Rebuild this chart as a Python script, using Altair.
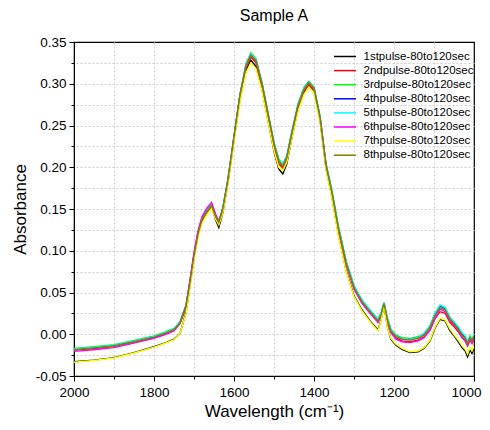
import altair as alt
import pandas as pd

wavenumber = [2000, 1950, 1900, 1850, 1800, 1770, 1750, 1735, 1720, 1710,
              1700, 1690, 1680, 1668, 1656, 1646, 1638, 1628, 1615, 1600,
              1585, 1570, 1558, 1545, 1530, 1515, 1500, 1488, 1478, 1468,
              1455, 1440, 1425, 1413, 1400, 1385, 1370, 1355, 1340, 1320,
              1300, 1280, 1260, 1240, 1232, 1225, 1217, 1208, 1195, 1180,
              1160, 1140, 1125, 1110, 1098, 1085, 1072, 1060, 1048, 1038,
              1030, 1022, 1016, 1010, 1005, 1000]

series_names = ["1stpulse-80to120sec", "2ndpulse-80to120sec", "3rdpulse-80to120sec",
                "4thpulse-80to120sec", "5thpulse-80to120sec", "6thpulse-80to120sec",
                "7thpulse-80to120sec", "8thpulse-80to120sec"]
colors = ["#000000", "#ff0000", "#00ff00", "#0000ff", "#00ffff", "#ff00ff", "#ffff00", "#808000"]

pulse1 = [-0.033, -0.031, -0.028, -0.022, -0.015, -0.010, -0.006, 0.001, 0.026, 0.058,
          0.092, 0.119, 0.136, 0.146, 0.153, 0.137, 0.128, 0.145, 0.182, 0.233,
          0.282, 0.316, 0.328, 0.321, 0.293, 0.256, 0.219, 0.198, 0.192, 0.204,
          0.236, 0.269, 0.290, 0.299, 0.292, 0.257, 0.199, 0.164, 0.122, 0.077,
          0.046, 0.029, 0.016, 0.005, 0.018, 0.035, 0.010, -0.006, -0.013, -0.018,
          -0.022, -0.021, -0.017, -0.008, 0.007, 0.018, 0.016, 0.004, -0.003, -0.010,
          -0.016, -0.020, -0.027, -0.019, -0.023, -0.017]
pulse2 = [-0.019, -0.017, -0.0145, -0.0095, -0.004, 0.001, 0.005, 0.013, 0.032, 0.061,
          0.093, 0.119, 0.136, 0.146, 0.153, 0.139, 0.132, 0.148, 0.183, 0.234,
          0.284, 0.319, 0.332, 0.325, 0.297, 0.261, 0.225, 0.204, 0.199, 0.209,
          0.239, 0.271, 0.291, 0.299, 0.292, 0.258, 0.201, 0.168, 0.128, 0.085,
          0.055, 0.038, 0.026, 0.015, 0.023, 0.036, 0.017, 0.003, -0.004, -0.008,
          -0.009, -0.007, -0.003, 0.005, 0.018, 0.027, 0.025, 0.014, 0.008, 0.002,
          -0.004, -0.008, -0.014, -0.007, -0.011, -0.005]
pulse3 = [-0.017, -0.015, -0.0125, -0.0075, -0.002, 0.003, 0.007, 0.015, 0.035, 0.064,
          0.096, 0.122, 0.139, 0.149, 0.156, 0.143, 0.136, 0.152, 0.187, 0.238,
          0.288, 0.324, 0.337, 0.330, 0.302, 0.266, 0.230, 0.210, 0.204, 0.214,
          0.244, 0.276, 0.296, 0.303, 0.296, 0.262, 0.205, 0.172, 0.132, 0.088,
          0.058, 0.041, 0.029, 0.018, 0.026, 0.038, 0.020, 0.006, -0.001, -0.004,
          -0.005, -0.003, 0.001, 0.010, 0.024, 0.034, 0.031, 0.020, 0.013, 0.008,
          0.001, -0.003, -0.010, -0.002, -0.007, 0.000]
pulse4 = [-0.018, -0.016, -0.0135, -0.0085, -0.003, 0.002, 0.006, 0.014, 0.034, 0.063,
          0.095, 0.121, 0.138, 0.148, 0.155, 0.141, 0.134, 0.150, 0.185, 0.236,
          0.286, 0.322, 0.335, 0.328, 0.300, 0.264, 0.228, 0.208, 0.202, 0.212,
          0.242, 0.274, 0.294, 0.302, 0.295, 0.260, 0.203, 0.170, 0.130, 0.087,
          0.057, 0.040, 0.028, 0.017, 0.025, 0.037, 0.019, 0.005, -0.002, -0.005,
          -0.006, -0.004, 0.000, 0.009, 0.024, 0.034, 0.031, 0.019, 0.012, 0.006,
          0.000, -0.004, -0.008, -0.004, -0.006, -0.004]
pulse5 = [-0.0175, -0.0155, -0.013, -0.008, -0.0025, 0.0025, 0.0065, 0.0145, 0.034, 0.063,
          0.095, 0.121, 0.138, 0.148, 0.155, 0.142, 0.135, 0.151, 0.186, 0.237,
          0.287, 0.323, 0.336, 0.329, 0.301, 0.265, 0.229, 0.209, 0.203, 0.213,
          0.243, 0.275, 0.295, 0.302, 0.295, 0.261, 0.204, 0.171, 0.131, 0.088,
          0.058, 0.041, 0.029, 0.018, 0.026, 0.038, 0.020, 0.006, -0.002, -0.005,
          -0.006, -0.004, 0.001, 0.010, 0.025, 0.035, 0.032, 0.020, 0.014, 0.008,
          0.002, -0.002, -0.008, -0.003, -0.005, -0.001]
pulse6 = [-0.0205, -0.0185, -0.016, -0.0105, -0.005, 0.000, 0.004, 0.013, 0.034, 0.065,
          0.098, 0.124, 0.141, 0.151, 0.158, 0.144, 0.135, 0.150, 0.185, 0.236,
          0.286, 0.321, 0.334, 0.327, 0.299, 0.263, 0.227, 0.207, 0.201, 0.211,
          0.241, 0.273, 0.293, 0.301, 0.294, 0.259, 0.202, 0.168, 0.128, 0.084,
          0.054, 0.037, 0.025, 0.014, 0.022, 0.036, 0.016, 0.002, -0.006, -0.009,
          -0.010, -0.008, -0.004, 0.005, 0.019, 0.030, 0.027, 0.016, 0.010, 0.004,
          -0.003, -0.007, -0.013, -0.006, -0.010, -0.004]
pulse7 = [-0.0335, -0.0315, -0.0285, -0.0225, -0.0155, -0.0105, -0.0065, 0.001, 0.025, 0.056,
          0.089, 0.116, 0.133, 0.143, 0.151, 0.138, 0.131, 0.145, 0.180, 0.230,
          0.279, 0.313, 0.325, 0.318, 0.291, 0.255, 0.220, 0.200, 0.196, 0.206,
          0.235, 0.267, 0.287, 0.296, 0.289, 0.254, 0.197, 0.162, 0.120, 0.076,
          0.045, 0.028, 0.015, 0.004, 0.017, 0.034, 0.009, -0.005, -0.012, -0.017,
          -0.021, -0.020, -0.016, -0.007, 0.008, 0.019, 0.017, 0.006, -0.002, -0.008,
          -0.014, -0.018, -0.024, -0.016, -0.020, -0.014]
pulse8 = [-0.0185, -0.0165, -0.014, -0.009, -0.0035, 0.0015, 0.0055, 0.0135, 0.033, 0.062,
          0.094, 0.120, 0.137, 0.147, 0.154, 0.141, 0.134, 0.150, 0.185, 0.236,
          0.286, 0.321, 0.334, 0.327, 0.299, 0.263, 0.227, 0.207, 0.201, 0.211,
          0.241, 0.273, 0.293, 0.301, 0.294, 0.259, 0.202, 0.169, 0.129, 0.086,
          0.056, 0.039, 0.027, 0.016, 0.024, 0.037, 0.018, 0.004, -0.003, -0.006,
          -0.007, -0.005, -0.001, 0.008, 0.022, 0.032, 0.029, 0.018, 0.011, 0.005,
          -0.001, -0.005, -0.011, -0.004, -0.008, -0.002]

y_ticks = [-0.05, -0.025, 0.0, 0.025, 0.05, 0.075, 0.1, 0.125, 0.15, 0.175,
           0.2, 0.225, 0.25, 0.275, 0.3, 0.325, 0.35]
x_ticks = [1000, 1100, 1200, 1300, 1400, 1500, 1600, 1700, 1800, 1900, 2000]

all_series = [pulse1, pulse2, pulse3, pulse4, pulse5, pulse6, pulse7, pulse8]
rows = []
for name, vals in zip(series_names, all_series):
    for w, v in zip(wavenumber, vals):
        rows.append({"Wavenumber": w, "Absorbance": v, "Series": name})
df = pd.DataFrame(rows)

FONT = "Liberation Sans"
y_major = "abs(datum.value*20 - round(datum.value*20)) < 0.001"
y_edge = "datum.value > 0.34 || datum.value < -0.04"
x_major = "datum.value % 200 == 0"
x_last = "datum.value == 1000"
x_edge = "datum.value == 1000 || datum.value == 2000"

chart = alt.Chart(df).mark_line(strokeWidth=1.4, clip=True).encode(
    x=alt.X("Wavenumber:Q",
            scale=alt.Scale(domain=[1000, 2000], reverse=True, nice=False, zero=False),
            axis=alt.Axis(values=x_ticks, title="Wavelength (cm⁻¹)",
                          labelExpr=f"{x_major} ? format(datum.value, 'd') : ''",
                          tickSize={"condition": {"test": x_major, "value": 5}, "value": 3},
                          labelAlign={"condition": {"test": x_last, "value": "right"}, "value": "center"},
                          labelOffset={"condition": {"test": x_last, "value": 7}, "value": 0},
                          gridOpacity={"condition": {"test": x_edge, "value": 0}, "value": 1},
                          labelFlush=False, labelPadding=4, titlePadding=5)),
    y=alt.Y("Absorbance:Q",
            scale=alt.Scale(domain=[-0.05, 0.35], nice=False, zero=False),
            axis=alt.Axis(values=y_ticks, title="Absorbance",
                          labelExpr=f"{y_major} ? replace(format(datum.value, '.2f'), '\u2212', '-') : ''",
                          tickSize={"condition": {"test": y_major, "value": 5}, "value": 3},
                          gridOpacity={"condition": {"test": y_edge, "value": 0}, "value": 1},
                          labelFlush=False, labelPadding=3, titlePadding=6)),
    color=alt.Color("Series:N",
                    scale=alt.Scale(domain=series_names, range=colors),
                    legend=alt.Legend(title=None, orient="none", legendX=264.5, legendY=8,
                                      symbolType="M-2,0H2", symbolSize=121,
                                      symbolStrokeWidth=1.5, labelFont=FONT,
                                      labelFontSize=11.5, labelOffset=12,
                                      rowPadding=2.1, padding=0)),
).properties(
    width=400,
    height=334,
    title=alt.TitleParams("Sample A", font=FONT, fontSize=16, fontWeight="normal",
                          anchor="middle", offset=11, color="#000000"),
    autosize=alt.AutoSizeParams(type="none"),
    padding={"left": 66, "top": 34, "right": 8, "bottom": 46},
).configure_view(
    stroke="#000000", strokeWidth=1.2
).configure_axis(
    labelFont=FONT, titleFont=FONT, labelFontSize=13.5, titleFontSize=17,
    titleFontWeight="normal", labelColor="#000000", titleColor="#000000",
    domainColor="#000000", tickColor="#000000", domainWidth=1, tickWidth=1,
    grid=True, gridColor="#cfcfcf", gridDash=[2, 2], gridWidth=1,
)

chart.save("out.html", embed_options={"renderer": "svg", "actions": False})
